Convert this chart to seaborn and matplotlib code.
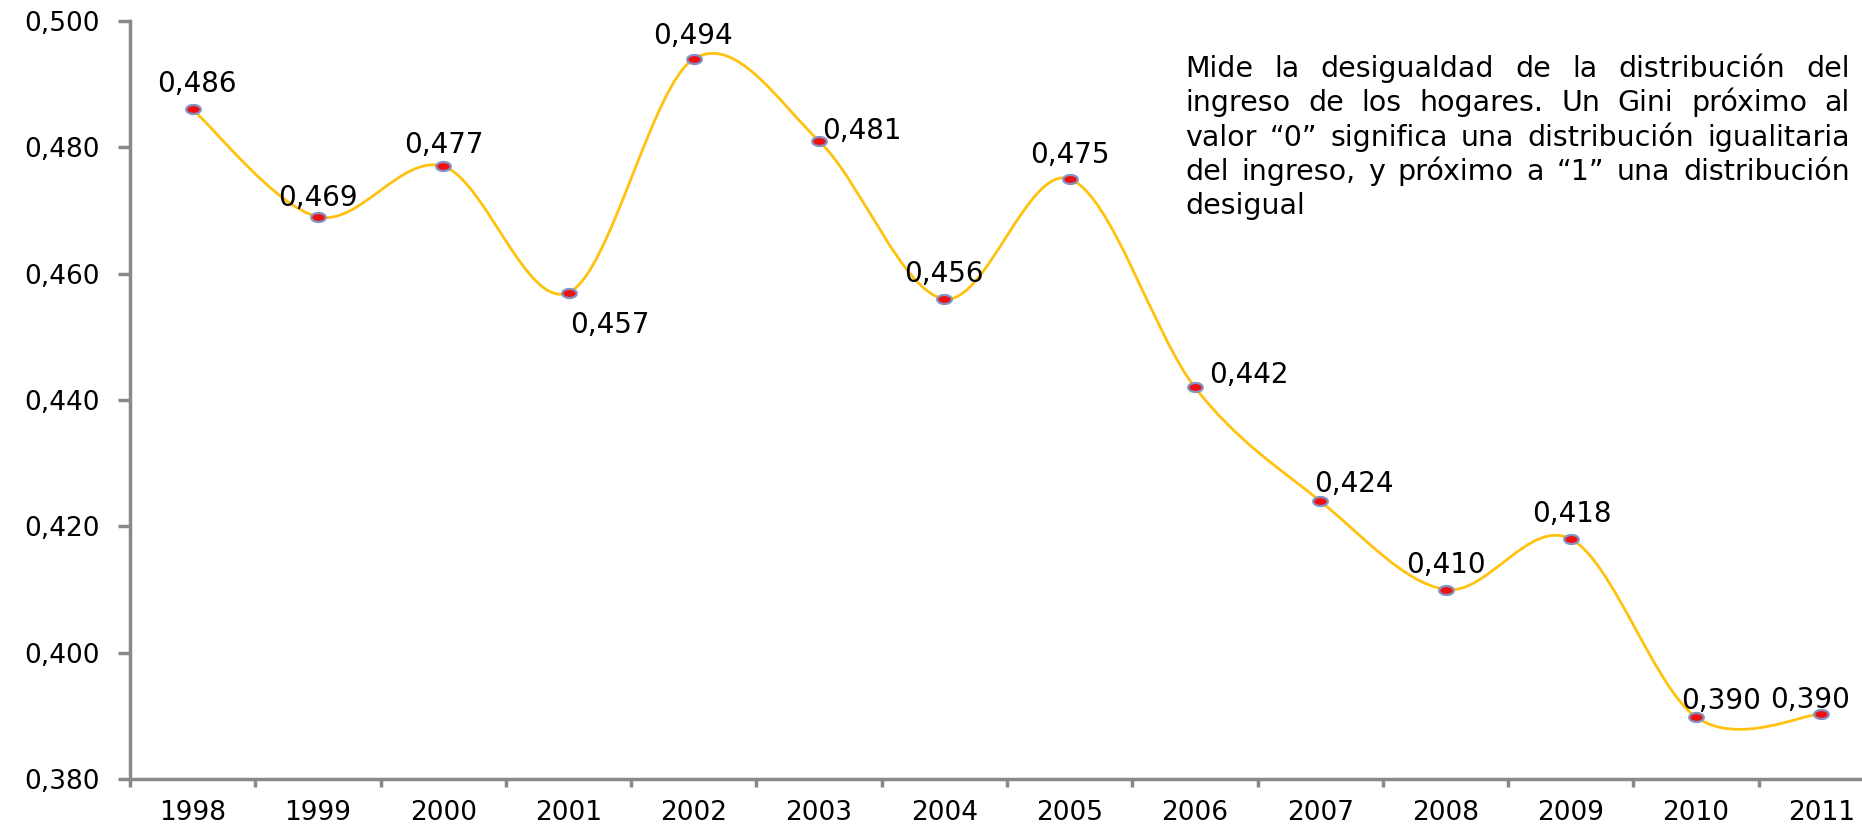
import numpy as np
import pandas as pd
import matplotlib
matplotlib.use("Agg")
import matplotlib.pyplot as plt
import seaborn as sns
from matplotlib.path import Path
from matplotlib.patches import PathPatch
from matplotlib.font_manager import FontProperties

# ---------------- data ----------------
years = ["1998", "1999", "2000", "2001", "2002", "2003", "2004",
         "2005", "2006", "2007", "2008", "2009", "2010", "2011"]
gini = [0.486, 0.469, 0.477, 0.457, 0.494, 0.481, 0.456,
        0.475, 0.442, 0.424, 0.410, 0.418, 0.3898, 0.3903]
y_ticks = [0.380, 0.400, 0.420, 0.440, 0.460, 0.480, 0.500]
note_lines = [
    "Mide la desigualdad de la distribución del",
    "ingreso de los hogares. Un Gini próximo al",
    "valor “0” significa una distribución igualitaria",
    "del ingreso, y próximo a “1” una distribución",
    "desigual",
]
# label placement (pixels) relative to each point; anchor 'c' centred, 'l' left edge
label_dx = [4, 0, 1, 2, -1, 3, 0, 0, 14, -6, 0, 1, -15, -11]
label_dy = [28, 22, 24, -29, 26, 13, 28, 27, 15, 20, 27, 28, 19, 17]
label_anchor = ["c", "c", "c", "l", "c", "l", "c", "c", "l", "l", "c", "c", "l", "c"]

W, H = 1862, 831
sns.set_theme(style="ticks")
plt.rcParams["font.family"] = ["DejaVu Sans"]

fig = plt.figure(figsize=(W / 100, H / 100), dpi=100)
left_px, right_px, top_px, bot_px = 130, 1884, 21, 779
ax = fig.add_axes([left_px / W, 1 - bot_px / H, (right_px - left_px) / W, (bot_px - top_px) / H])

df = pd.DataFrame({"x": np.arange(len(years)), "gini": gini, "year": years})

# smooth (Bezier) line through the points
pts = np.column_stack([df["x"].to_numpy(float), df["gini"].to_numpy(float)])
n = len(pts)
verts = [pts[0]]
codes = [Path.MOVETO]
for i in range(n - 1):
    p0 = pts[max(i - 1, 0)]
    p1 = pts[i]
    p2 = pts[i + 1]
    p3 = pts[min(i + 2, n - 1)]
    c1 = p1 + (p2 - p0) / 6.0
    c2 = p2 - (p3 - p1) / 6.0
    verts += [c1, c2, p2]
    codes += [Path.CURVE4] * 3
ax.add_patch(PathPatch(Path(verts, codes), fill=False, edgecolor="#FFC20E", lw=2.0, zorder=2))

# slightly wide elliptical marker
th = np.linspace(0, 2 * np.pi, 41)
ell = Path(np.column_stack([np.cos(th), 0.62 * np.sin(th)]), closed=True)
sns.scatterplot(data=df, x="x", y="gini", ax=ax, s=110, marker=ell, color="#EE1111",
                edgecolor="#8393C4", linewidth=1.6, zorder=3, legend=False)

for i, (xv, v) in enumerate(zip(df["x"], gini)):
    ax.annotate(f"{v:.3f}".replace(".", ","), (xv, v),
                xytext=(label_dx[i], label_dy[i]), textcoords="offset pixels",
                ha="center" if label_anchor[i] == "c" else "left",
                va="center_baseline", fontsize=20, color="black", zorder=4)

ax.set_xlim(-0.5, len(years) - 0.5)
ax.set_ylim(0.38, 0.50)
ax.set_yticks(y_ticks)
ax.set_yticklabels([f"{t:.3f}".replace(".", ",") for t in y_ticks])
ax.set_xticks(np.arange(-0.5, len(years), 1.0))
ax.set_xticklabels([])
ax.set_xticks(np.arange(len(years)), minor=True)
ax.set_xticklabels(years, minor=True)
ax.set_xlabel("")
ax.set_ylabel("")

axis_col = "#898989"
ax.tick_params(axis="x", which="major", length=6, width=2.5, color=axis_col, direction="out", bottom=True)
ax.tick_params(axis="x", which="minor", length=0, pad=15, labelsize=19, labelcolor="black", bottom=True)
ax.tick_params(axis="y", which="major", length=9, width=2.5, color=axis_col, pad=13,
               labelsize=19, labelcolor="black", left=True)
for s in ["top", "right"]:
    ax.spines[s].set_visible(False)
for s in ["left", "bottom"]:
    ax.spines[s].set_color(axis_col)
    ax.spines[s].set_linewidth(2.5)
ax.grid(False)

# justified note text
renderer = fig.canvas.get_renderer()
box_l, box_r = 1185, 1850
base0, lstep = 77, 34.3
fsize = 21.0
while True:
    fp = FontProperties(family="DejaVu Sans", size=fsize)
    widest = max(renderer.get_text_width_height_descent(l_, fp, ismath=False)[0] for l_ in note_lines)
    if widest <= (box_r - box_l) * 0.985 or fsize < 12:
        break
    fsize -= 0.25
for li, line in enumerate(note_lines):
    yb = 1 - (base0 + li * lstep) / H
    if li == len(note_lines) - 1:
        fig.text(box_l / W, yb, line, fontproperties=fp, ha="left", va="baseline", color="black")
        continue
    words = line.split(" ")
    widths = [renderer.get_text_width_height_descent(w_, fp, ismath=False)[0] for w_ in words]
    gap = (box_r - box_l - sum(widths)) / (len(words) - 1)
    xcur = box_l
    for w_, wd in zip(words, widths):
        fig.text(xcur / W, yb, w_, fontproperties=fp, ha="left", va="baseline", color="black")
        xcur += wd + gap

fig.savefig("out.png", dpi=100)
